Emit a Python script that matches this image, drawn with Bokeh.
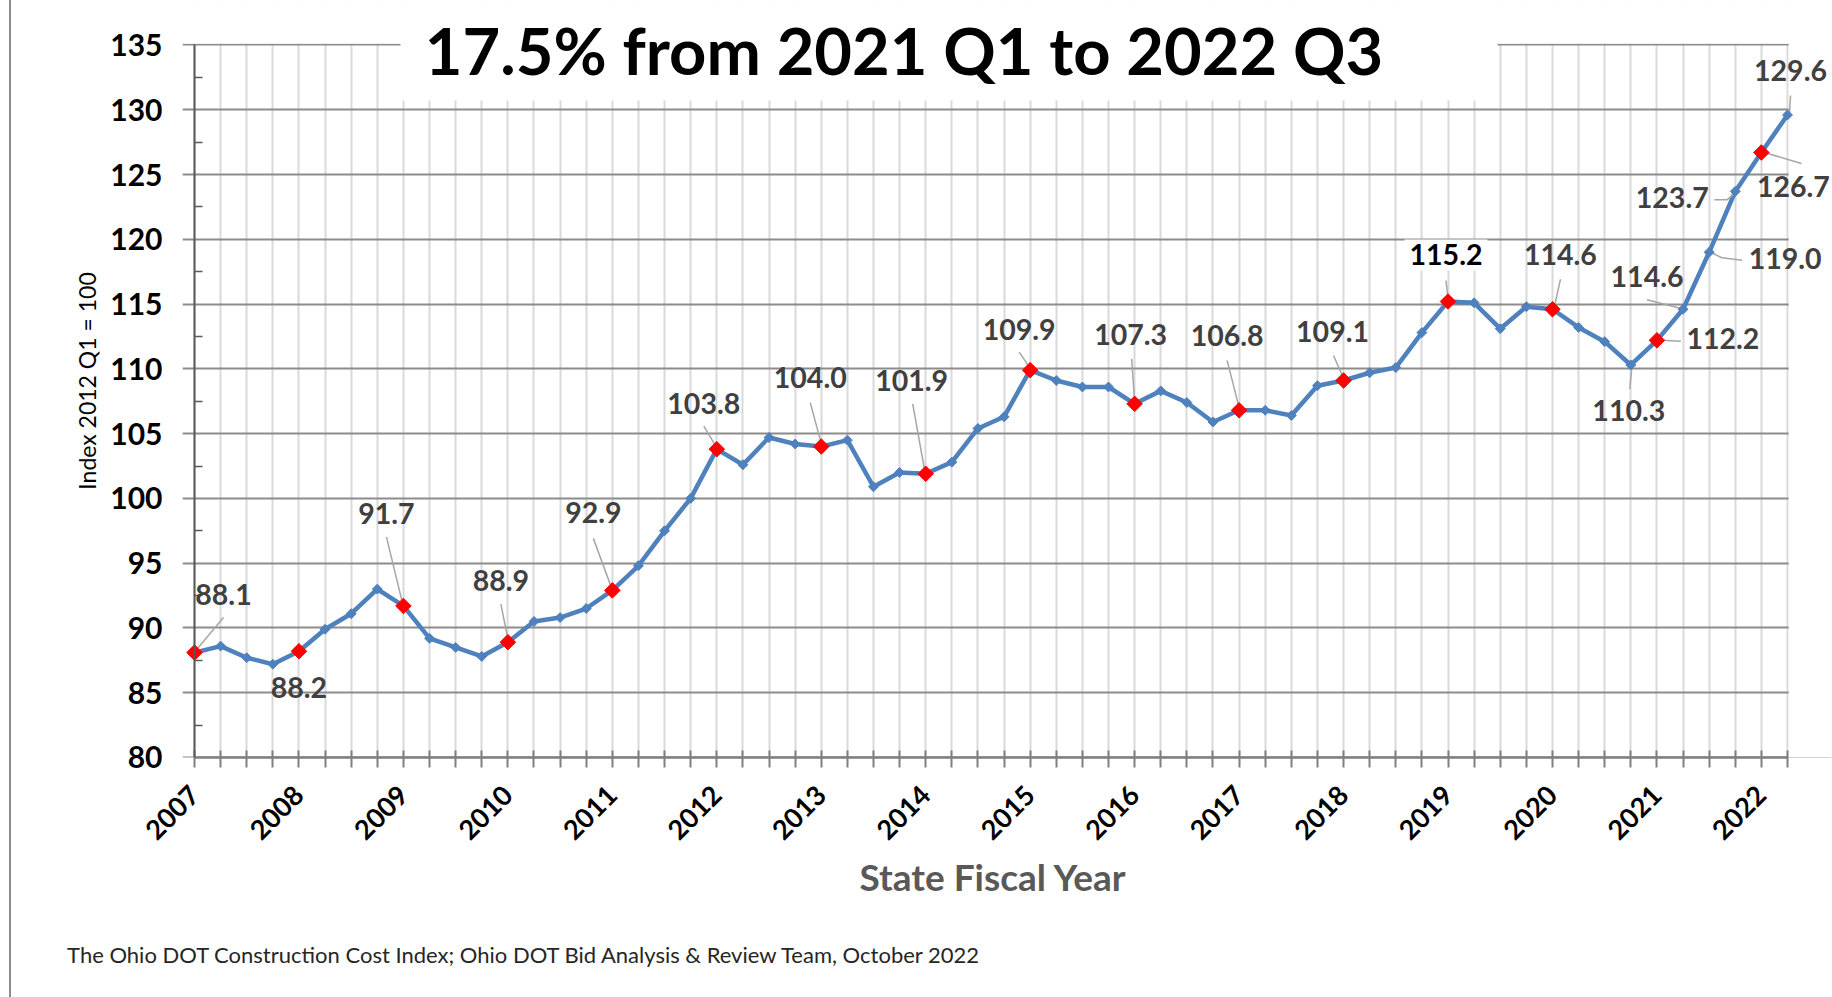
import math
from bokeh.plotting import figure
from bokeh.models import (Range1d, FixedTicker, SingleIntervalTicker, ColumnDataSource,
                          LabelSet, Label, BoxAnnotation, Title, LinearAxis)
from bokeh.core.properties import value
from bokeh.embed import file_html
from bokeh.resources import INLINE

# ---------------- data ----------------
start_year = 2007
years = list(range(2007, 2023))
index_values = [
    88.1, 88.6, 87.7, 87.2, 88.2, 89.9, 91.1, 93.0, 91.7, 89.2, 88.5, 87.8, 88.9, 90.5, 90.8, 91.5,
    92.9, 94.8, 97.5, 100.0, 103.8, 102.6, 104.7, 104.2, 104.0, 104.5, 100.9, 102.0, 101.9, 102.8, 105.4, 106.3,
    109.9, 109.1, 108.6, 108.6, 107.3, 108.3, 107.4, 105.9, 106.8, 106.8, 106.4, 108.7, 109.1, 109.7, 110.1, 112.8,
    115.2, 115.1, 113.1, 114.8, 114.6, 113.2, 112.1, 110.3, 112.2, 114.6, 119.0, 123.7, 126.7, 129.6,
]
labeled_idx = [0, 4, 8, 12, 16, 20, 24, 28, 32, 36, 40, 44, 48, 52, 55, 56, 57, 58, 59, 60, 61]
boxed_idx = 48
title_text = "17.5% from 2021 Q1 to 2022 Q3"
y_label = "Index 2012 Q1 = 100"
x_label = "State Fiscal Year"
footer_text = "The Ohio DOT Construction Cost Index; Ohio DOT Bid Analysis & Review Team, October 2022"

# ---------------- layout (page pixels) ----------------
Y_MIN, Y_MAX = 80, 135
Y_STEP = 5
n = len(index_values)
AX_L, AX_R = 194, 1787        # page x of first / last quarter
AX_T, AX_B = 44.5, 757        # page y of Y_MAX / Y_MIN
XPX = (AX_R - AX_L) / (n - 1)
YPX = (AX_B - AX_T) / (Y_MAX - Y_MIN)
EDGE_X = 9                    # page x of the thin gray page rule
CANVAS_X0, CANVAS_Y0 = EDGE_X + 2, 0
FRAME_L, FRAME_R, FRAME_T = 182, 1831, 4
CANVAS_H = 995
LABEL_SHIFT = -3.5            # fine vertical shift of data label text (px, down positive)

def px2x(px):
    return (px - AX_L) / XPX

def py2y(py):
    return Y_MAX - (py - AX_T) / YPX

# label offsets in screen pixels (dx right, dy down) relative to the point
label_dx = [29, 0, -17, -7, -19, -13, -11, -14, -11, -4, -12, -11, -2, 8, -2, 66, -36, 76, -63, 32, 3]
label_dy = [-55, 40, -89, -58, -74, -42, -66, -90, -37, -66, -71, -46, -43, -51, 49, 2, -29, 10, 10, 37, -41]
# leader paths in screen pixels relative to the point
leaders = [
    [(29, -35), (3, -4)], None, [(-17, -69), (-1, -3)], [(-7, -38), (0, -3)], [(-19, -52), (-1, -3)],
    [(-13, -23), (-1, -3)], [(-11, -44), (0, -3)], [(-13, -70), (-1, -3)], [(-11, -18), (0, -2)],
    [(-3, -45), (0, -3)], [(-12, -50), (0, -3)], [(-10, -25), (0, -2)], [(-2, -21), (0, -3)],
    [(8, -30), (2, -3)], [(-1, 24), (1, 3)], [(24, 1), (5, 0)], [(-36, -9.5), (1, 0)],
    [(33, 8), (12.7, 5.5), (3.4, 1)], [(-21, 8.3), (-8, 8.3), (1.5, 0)], [(40, 11), (1.3, -0.6)],
    [(3, -19.5), (2, -1.5)],
]

q = list(range(n))

frame_w = FRAME_R - FRAME_L
frame_h = round(AX_B - FRAME_T)
p = figure(frame_width=frame_w, frame_height=frame_h,
           x_range=Range1d(px2x(FRAME_L), px2x(FRAME_R)),
           y_range=Range1d(py2y(AX_B + 0.01), py2y(FRAME_T)),
           output_backend="svg", toolbar_location=None,
           min_border_left=FRAME_L - CANVAS_X0, min_border_top=FRAME_T - CANVAS_Y0,
           min_border_right=0, min_border_bottom=CANVAS_H - frame_h - FRAME_T)
p.outline_line_color = None
p.background_fill_color = "white"
p.border_fill_color = "white"
p.styles = {"margin-left": f"{EDGE_X}px", "border-left": "2px solid #8c8c8c"}

# x axis
p.xaxis.bounds = (0, n - 1)
p.xaxis.ticker = FixedTicker(ticks=q)
p.xaxis.major_label_overrides = {i: (str(start_year + i // 4) if i % 4 == 0 else "") for i in q}
p.xaxis.major_label_orientation = math.pi / 4
p.xaxis.major_label_text_font = "Lato"
p.xaxis.major_label_text_font_style = "bold"
p.xaxis.major_label_text_font_size = "27px"
p.xaxis.major_label_text_color = "black"
p.xaxis.major_label_standoff = 23
p.xaxis.major_tick_in = 7
p.xaxis.major_tick_out = 10
p.xaxis.major_tick_line_color = "#7f7f7f"
p.xaxis.major_tick_line_width = 2
p.xaxis.axis_line_color = "#7f7f7f"
p.xaxis.axis_line_width = 2.5

# y axis: labels in the left panel; the axis line + minor ticks sit at the first quarter
p.yaxis.bounds = (Y_MIN, Y_MAX)
p.yaxis.ticker = SingleIntervalTicker(interval=Y_STEP, num_minor_ticks=2)
p.yaxis.axis_line_color = None
p.yaxis.major_tick_line_color = None
p.yaxis.minor_tick_line_color = None
p.yaxis.major_tick_in = 0
p.yaxis.major_tick_out = 0
p.yaxis.minor_tick_in = 0
p.yaxis.minor_tick_out = 0
p.yaxis.major_label_text_font = "Lato"
p.yaxis.major_label_text_font_style = "bold"
p.yaxis.major_label_text_font_size = "30px"
p.yaxis.major_label_text_color = "black"
p.yaxis.major_label_standoff = 20
p.yaxis.axis_label = y_label
p.yaxis.axis_label_text_font = "Lato"
p.yaxis.axis_label_text_font_style = "normal"
p.yaxis.axis_label_text_font_size = "23px"
p.yaxis.axis_label_text_color = "black"
p.yaxis.axis_label_standoff = 6

half_steps = [Y_MIN + Y_STEP / 2 + Y_STEP * k for k in range(int((Y_MAX - Y_MIN) / Y_STEP))]
y_line = LinearAxis(fixed_location=0, bounds=(Y_MIN, Y_MAX),
                    ticker=FixedTicker(ticks=[], minor_ticks=half_steps),
                    axis_line_color="#595959", axis_line_width=2,
                    major_tick_in=0, major_tick_out=0,
                    minor_tick_in=8, minor_tick_out=0,
                    minor_tick_line_color="#595959", minor_tick_line_width=1.5)
p.add_layout(y_line, "left")

# grids
p.xgrid.grid_line_color = "#D9D9D9"
p.xgrid.grid_line_width = 2
p.ygrid.grid_line_color = "#8C8C8C"
p.ygrid.grid_line_width = 2

# white masks: above the top grid line, right of the last quarter, behind the title
p.add_layout(BoxAnnotation(bottom=Y_MAX + 1.2 / YPX, fill_color="white", fill_alpha=1.0,
                           line_color=None, level="underlay"))
p.add_layout(BoxAnnotation(left=(n - 1) + 1.2 / XPX, fill_color="white", fill_alpha=1.0,
                           line_color=None, level="underlay"))
p.add_layout(BoxAnnotation(left=px2x(400), right=px2x(1497), bottom=py2y(100), fill_color="white",
                           fill_alpha=1.0, line_color=None, level="underlay"))

# series
p.line(q, index_values, line_color="#4F81BD", line_width=4.5)

# leader lines
lx, ly = [], []
for k, i in enumerate(labeled_idx):
    path = leaders[k]
    if path is None:
        continue
    lx.append([q[i] + dx / XPX for dx, dy in path])
    ly.append([index_values[i] - dy / YPX for dx, dy in path])
p.multi_line(lx, ly, line_color="#A6A6A6", line_width=1.5)

p.scatter(q, index_values, marker="square", angle=math.pi / 4, size=7,
          fill_color="#4F81BD", line_color="#4F81BD")
p.scatter(q[::4], index_values[::4], marker="square", angle=math.pi / 4, size=11,
          fill_color="#FF0000", line_color="#FF0000")

# data labels
src = ColumnDataSource(dict(
    x=[q[i] + label_dx[k] / XPX for k, i in enumerate(labeled_idx) if i != boxed_idx],
    y=[index_values[i] - (label_dy[k] + LABEL_SHIFT) / YPX for k, i in enumerate(labeled_idx) if i != boxed_idx],
    text=[f"{index_values[i]:.1f}" for i in labeled_idx if i != boxed_idx],
))
p.add_layout(LabelSet(x="x", y="y", text="text", source=src, text_align="center", text_baseline="middle",
                      text_font=value("Lato"), text_font_style="bold", text_font_size="28.5px",
                      text_color="#404040"))
kb = labeled_idx.index(boxed_idx)
p.add_layout(Label(x=q[boxed_idx] + label_dx[kb] / XPX,
                   y=index_values[boxed_idx] - (label_dy[kb] + LABEL_SHIFT) / YPX,
                   text=f"{index_values[boxed_idx]:.1f}", text_align="center", text_baseline="middle",
                   text_font="Lato", text_font_style="bold", text_font_size="28.5px", text_color="black",
                   background_fill_color="white", padding=5))

# title
p.add_layout(Label(x=px2x(903.5), y=py2y(50), text=title_text, text_align="center", text_baseline="middle",
                   text_font="Lato", text_font_style="bold", text_font_size="65px", text_color="black"))

# x-axis title (centred on the quarters) and source note below the axis
p.add_layout(Title(text=x_label, align="left", offset=990.5 - 131.5 - FRAME_L, standoff=0,
                   text_font="Lato", text_font_style="bold", text_font_size="37px",
                   text_color="#595959"), "below")
p.add_layout(Title(text=footer_text, align="left", offset=66.6 - FRAME_L, standoff=81,
                   text_font="Lato", text_font_style="normal", text_font_size="22px",
                   text_color="#262626"), "below")

open("out.html", "w").write(file_html(p, INLINE))
